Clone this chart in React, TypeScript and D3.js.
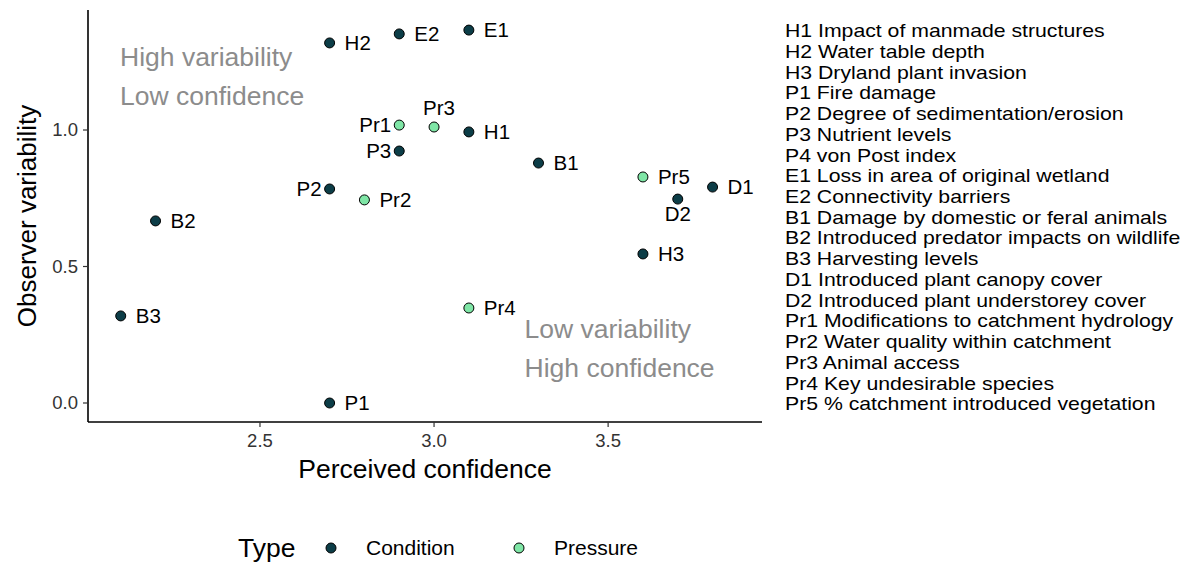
import React from "react";
import * as d3 from "d3";

const codes = ["H2", "E2", "E1", "Pr1", "Pr3", "H1", "P3", "B1", "Pr5", "D1", "D2", "P2", "Pr2", "B2", "H3", "Pr4", "B3", "P1"];
const confidence = [2.7, 2.9, 3.1, 2.9, 3.0, 3.1, 2.9, 3.3, 3.6, 3.8, 3.7, 2.7, 2.8, 2.2, 3.6, 3.1, 2.1, 2.7];
const variability = [1.319, 1.352, 1.366, 1.018, 1.011, 0.993, 0.923, 0.879, 0.828, 0.791, 0.747, 0.784, 0.744, 0.667, 0.546, 0.348, 0.319, 0.0];
const types = ["Condition", "Condition", "Condition", "Pressure", "Pressure", "Condition", "Condition", "Condition", "Pressure", "Condition", "Condition", "Condition", "Pressure", "Condition", "Condition", "Pressure", "Condition", "Condition"];
const labelSide = ["r", "r", "r", "l", "t", "r", "l", "r", "r", "r", "b", "l", "r", "r", "r", "r", "r", "r"];

const xTicks = [2.5, 3.0, 3.5];
const yTicks = [0.0, 0.5, 1.0];

const legendLines = [
  "H1 Impact of manmade structures",
  "H2 Water table depth",
  "H3 Dryland plant invasion",
  "P1 Fire damage",
  "P2 Degree of sedimentation/erosion",
  "P3 Nutrient levels",
  "P4 von Post index",
  "E1 Loss in area of original wetland",
  "E2 Connectivity barriers",
  "B1 Damage by domestic or feral animals",
  "B2 Introduced predator impacts on wildlife",
  "B3 Harvesting levels",
  "D1 Introduced plant canopy cover",
  "D2 Introduced plant understorey cover",
  "Pr1 Modifications to catchment hydrology",
  "Pr2 Water quality within catchment",
  "Pr3 Animal access",
  "Pr4 Key undesirable species",
  "Pr5 % catchment introduced vegetation",
];

const typeNames = ["Condition", "Pressure"];
const typeColors = ["#0c3d47", "#7fe6a6"];

const FONT = "'Liberation Sans', Arial, Helvetica, sans-serif";

export default function App() {
  const W = 1189, H = 562;
  const left = 88, right = 762, top = 10, bottom = 422;
  const x = d3.scaleLinear().domain([2.006, 3.942]).range([left, right]);
  const y = d3.scaleLinear().domain([-0.0696, 1.4396]).range([bottom, top]);
  const color = d3.scaleOrdinal<string, string>().domain(typeNames).range(typeColors);

  const pts = codes.map((c, i) => ({ c, x: confidence[i], y: variability[i], t: types[i], s: labelSide[i] }));

  return (
    <svg width={W} height={H} style={{ position: "absolute", left: 0, top: 0, background: "#fff" }} fontFamily={FONT}>
      {/* annotations */}
      <g fill="#8c8c8c" fontSize={26.5}>
        <text x={x(2.098)} y={y(1.27)} dy="0.35em">High variability</text>
        <text x={x(2.098)} y={y(1.125)} dy="0.35em">Low confidence</text>
        <text x={x(3.26)} y={y(0.271)} dy="0.35em">Low variability</text>
        <text x={x(3.26)} y={y(0.128)} dy="0.35em">High confidence</text>
      </g>
      {/* axes */}
      <line x1={left} x2={right} y1={bottom} y2={bottom} stroke="#000" strokeWidth={1.6} />
      <line x1={left} x2={left} y1={top} y2={bottom} stroke="#000" strokeWidth={1.6} />
      {xTicks.map((t) => (
        <g key={"x" + t}>
          <line x1={x(t)} x2={x(t)} y1={bottom} y2={bottom + 5} stroke="#333" strokeWidth={1.2} />
          <text x={x(t)} y={bottom + 25} textAnchor="middle" fontSize={18.5} fill="#333">{d3.format(".1f")(t)}</text>
        </g>
      ))}
      {yTicks.map((t) => (
        <g key={"y" + t}>
          <line x1={left - 5} x2={left} y1={y(t)} y2={y(t)} stroke="#333" strokeWidth={1.2} />
          <text x={left - 10} y={y(t)} dy="0.35em" textAnchor="end" fontSize={18.5} fill="#333">{d3.format(".1f")(t)}</text>
        </g>
      ))}
      <text x={425} y={478} textAnchor="middle" fontSize={26.5}>Perceived confidence</text>
      <text transform={`translate(36,${(top + bottom) / 2}) rotate(-90)`} textAnchor="middle" fontSize={26}>Observer variability</text>

      {/* points */}
      {pts.map((p) => (
        <circle key={p.c} cx={x(p.x)} cy={y(p.y)} r={5} fill={color(p.t)} stroke="#000" strokeWidth={1} />
      ))}
      {/* labels */}
      <g fontSize={20.5} fill="#000">
        {pts.map((p) => {
          const cx = x(p.x), cy = y(p.y);
          let tx = cx + 15, ty = cy, anchor = "start";
          if (p.s === "l") { tx = cx - 8; anchor = "end"; }
          if (p.s === "t") { tx = cx + 5; ty = cy - 19; anchor = "middle"; }
          if (p.s === "b") { tx = cx; ty = cy + 15; anchor = "middle"; }
          return (
            <text key={"l" + p.c} x={tx} y={ty} dy="0.35em" textAnchor={anchor}>{p.c}</text>
          );
        })}
      </g>

      {/* right legend text */}
      <g fontSize={18} fill="#000" transform="translate(785,0) scale(1.18,1)">
        {legendLines.map((l, i) => (
          <text key={l} x={0} y={31 + i * 20.72} dy="0.35em">{l}</text>
        ))}
      </g>

      {/* bottom legend */}
      <g>
        <text x={238} y={548} dy="0.35em" fontSize={26.5}>Type</text>
        {typeNames.map((n, i) => (
          <g key={n} transform={`translate(${331 + i * 188},548)`}>
            <circle r={5} fill={color(n)} stroke="#000" strokeWidth={1} />
            <text x={35} dy="0.35em" fontSize={21}>{n}</text>
          </g>
        ))}
      </g>
    </svg>
  );
}
